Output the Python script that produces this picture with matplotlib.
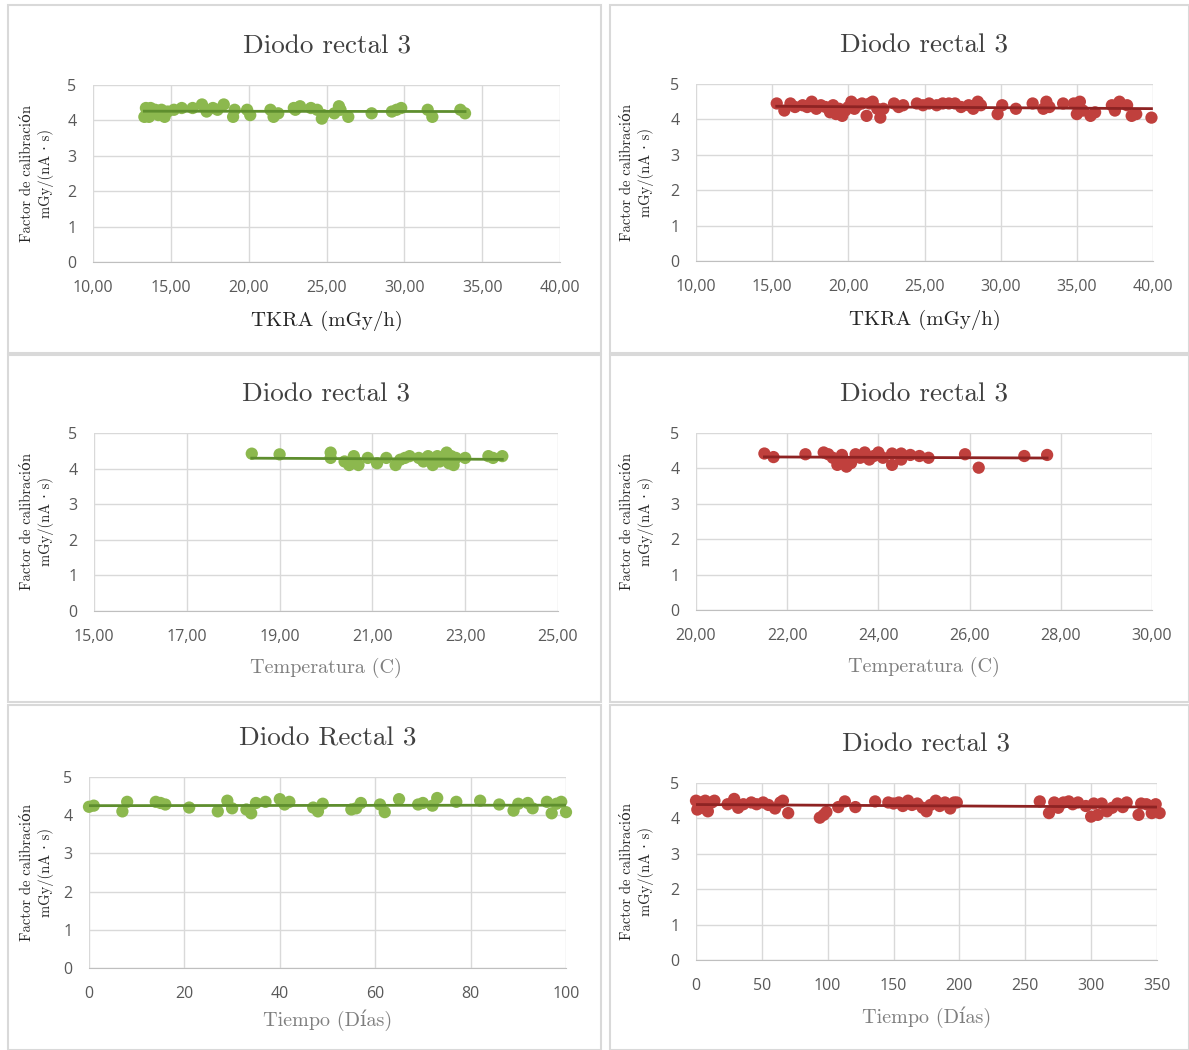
import numpy as np
import matplotlib
matplotlib.use("Agg")
import matplotlib.pyplot as plt
from matplotlib.patches import Rectangle

# TKRA, diodo 1 (verde)
tkra_v_x = [13.3, 13.4, 13.5, 13.6, 13.7, 13.8, 14.0, 14.2, 14.4, 14.6, 14.8, 15.2, 15.7, 16.4, 17.0,
            17.3, 17.7, 18.0, 18.4, 19.0, 19.1, 19.9, 20.1, 21.4, 21.6, 21.9, 22.9, 23.0, 23.3, 24.0,
            24.4, 24.7, 24.8, 25.5, 25.8, 25.9, 26.4, 27.9, 29.2, 29.5, 29.8, 31.5, 31.8, 33.6, 33.9]
tkra_v_y = [4.10, 4.35, 4.20, 4.10, 4.35, 4.20, 4.30, 4.15, 4.30, 4.10, 4.25, 4.30, 4.35, 4.35, 4.45,
            4.25, 4.35, 4.30, 4.45, 4.10, 4.30, 4.30, 4.15, 4.30, 4.10, 4.20, 4.35, 4.30, 4.40, 4.35,
            4.30, 4.05, 4.15, 4.20, 4.40, 4.30, 4.10, 4.20, 4.25, 4.30, 4.35, 4.30, 4.10, 4.30, 4.20]

# TKRA, diodo 2 (rojo)
tkra_r_x = [15.3, 15.8, 16.2, 16.5, 17.0, 17.3, 17.6, 17.9, 18.2, 18.5, 18.8, 19.0, 19.2, 19.4, 19.6,
            19.8, 20.0, 20.2, 20.4, 20.6, 20.9, 21.2, 21.4, 21.6, 21.9, 22.1, 22.3, 23.0, 23.3, 23.6,
            24.5, 24.9, 25.3, 25.8, 26.2, 26.6, 27.0, 27.4, 27.9, 28.2, 28.5, 28.7, 29.8, 30.1, 31.0,
            32.1, 32.8, 33.0, 33.2, 34.1, 34.8, 35.0, 35.2, 35.4, 35.9, 36.2, 37.3, 37.5, 37.8, 38.3,
            38.6, 38.9, 39.9]
tkra_r_y = [4.45, 4.25, 4.45, 4.35, 4.40, 4.35, 4.50, 4.30, 4.40, 4.35, 4.20, 4.40, 4.15, 4.30, 4.10,
            4.25, 4.35, 4.50, 4.30, 4.40, 4.45, 4.10, 4.45, 4.50, 4.30, 4.05, 4.30, 4.45, 4.35, 4.40,
            4.45, 4.40, 4.45, 4.40, 4.45, 4.45, 4.45, 4.35, 4.40, 4.30, 4.50, 4.40, 4.15, 4.40, 4.30,
            4.45, 4.30, 4.50, 4.35, 4.45, 4.45, 4.15, 4.50, 4.25, 4.10, 4.20, 4.40, 4.25, 4.50, 4.40,
            4.10, 4.15, 4.05]

# Temperatura, diodo 1 (verde)
temp_v_x = [18.4, 19.0, 20.1, 20.1, 20.4, 20.5, 20.6, 20.65, 20.7, 20.9, 21.1, 21.3, 21.5, 21.6, 21.7,
            21.8, 22.0, 22.1, 22.2, 22.3, 22.4, 22.45, 22.5, 22.6, 22.65, 22.7, 22.75, 22.8, 23.0, 23.5,
            23.6, 23.8]
temp_v_y = [4.42, 4.40, 4.45, 4.30, 4.20, 4.10, 4.35, 4.20, 4.10, 4.30, 4.15, 4.30, 4.10, 4.25, 4.30,
            4.35, 4.30, 4.20, 4.35, 4.10, 4.35, 4.20, 4.30, 4.45, 4.15, 4.35, 4.10, 4.30, 4.30, 4.35,
            4.30, 4.35]

# Temperatura, diodo 2 (rojo)
temp_r_x = [21.5, 21.7, 22.4, 22.8, 22.9, 23.0, 23.1, 23.2, 23.2, 23.3, 23.4, 23.5, 23.6, 23.7, 23.8,
            23.9, 24.0, 24.1, 24.3, 24.3, 24.5, 24.5, 24.7, 24.9, 25.1, 25.9, 26.2, 27.2, 27.7]
temp_r_y = [4.42, 4.32, 4.40, 4.45, 4.40, 4.30, 4.10, 4.38, 4.20, 4.05, 4.15, 4.40, 4.30, 4.45, 4.25,
            4.35, 4.45, 4.30, 4.42, 4.10, 4.25, 4.42, 4.38, 4.35, 4.30, 4.40, 4.02, 4.35, 4.38]

# Tiempo, diodo 1 (verde)
dias_v_x = [0, 1, 7, 8, 14, 15, 16, 21, 27, 29, 30, 33, 34, 35, 37, 40, 41, 42, 47, 48, 49, 55, 56, 57,
            61, 62, 65, 69, 70, 72, 73, 77, 82, 86, 89, 90, 92, 93, 96, 97, 98, 99, 100]
dias_v_y = [4.22, 4.25, 4.10, 4.35, 4.35, 4.32, 4.28, 4.20, 4.10, 4.38, 4.18, 4.15, 4.05, 4.32, 4.35,
            4.42, 4.28, 4.35, 4.20, 4.10, 4.30, 4.15, 4.18, 4.32, 4.28, 4.08, 4.42, 4.28, 4.32, 4.25,
            4.45, 4.35, 4.38, 4.28, 4.12, 4.30, 4.32, 4.18, 4.35, 4.05, 4.30, 4.35, 4.08]

# Tiempo, diodo 2 (rojo)
dias_r_x = [0, 1, 3, 5, 7, 9, 12, 14, 24, 29, 32, 36, 42, 46, 51, 55, 60, 64, 66, 70, 94, 97, 99, 108,
            113, 121, 136, 146, 150, 154, 157, 161, 164, 168, 172, 175, 178, 182, 185, 189, 193, 196,
            198, 261, 268, 272, 275, 279, 283, 286, 290, 296, 300, 302, 305, 308, 312, 316, 320, 324,
            327, 336, 338, 342, 346, 349, 352]
dias_r_y = [4.50, 4.25, 4.45, 4.30, 4.50, 4.20, 4.45, 4.50, 4.40, 4.55, 4.30, 4.40, 4.45, 4.40, 4.45,
            4.38, 4.28, 4.45, 4.50, 4.15, 4.02, 4.10, 4.18, 4.32, 4.48, 4.32, 4.48, 4.45, 4.42, 4.45,
            4.35, 4.50, 4.38, 4.42, 4.30, 4.20, 4.38, 4.50, 4.35, 4.45, 4.28, 4.45, 4.45, 4.48, 4.15,
            4.45, 4.30, 4.45, 4.48, 4.40, 4.45, 4.35, 4.05, 4.42, 4.10, 4.42, 4.20, 4.30, 4.42, 4.32,
            4.45, 4.10, 4.42, 4.40, 4.15, 4.40, 4.15]

verde, verde_linea = "#8cb84e", "#5e8e2e"
rojo, rojo_linea = "#c0403d", "#8e2323"
serif = ["cmr10", "DejaVu Serif"]
sans = ["Open Sans", "DejaVu Sans"]

ylab = "Factor de calibración\nmGy/(nA · s)"

# (x, y, color, linea, xlim, xticks, formato, titulo, xlabel, estilo, labelpad, rect axes px)
paneles = [
    (tkra_v_x, tkra_v_y, verde, verde_linea, (10, 40), np.arange(10, 41, 5), "{:.2f}",
     "Diodo rectal 3", "TKRA (mGy/h)", "negro", 11, (93, 85, 560, 262)),
    (tkra_r_x, tkra_r_y, rojo, rojo_linea, (10, 40), np.arange(10, 41, 5), "{:.2f}",
     "Diodo rectal 3", "TKRA (mGy/h)", "negro", 11, (696, 84, 1153, 261)),
    (temp_v_x, temp_v_y, verde, verde_linea, (15, 25), np.arange(15, 26, 2), "{:.2f}",
     "Diodo rectal 3", "Temperatura (C)", "gris", 9, (94, 433, 558, 611)),
    (temp_r_x, temp_r_y, rojo, rojo_linea, (20, 30), np.arange(20, 31, 2), "{:.2f}",
     "Diodo rectal 3", "Temperatura (C)", "gris", 9, (696, 433, 1152, 610)),
    (dias_v_x, dias_v_y, verde, verde_linea, (0, 100), np.arange(0, 101, 20), "{:.0f}",
     "Diodo Rectal 3", "Tiempo (Días)", "gris", 5, (89, 777, 566, 968)),
    (dias_r_x, dias_r_y, rojo, rojo_linea, (0, 350), np.arange(0, 351, 50), "{:.0f}",
     "Diodo rectal 3", "Tiempo (Días)", "gris", 9, (696, 783, 1157, 960)),
]

W, H = 1189, 1050
fig = plt.figure(figsize=(W / 100, H / 100), dpi=100)
fig.patch.set_facecolor("white")

# marcos de cada grafico
for (x0, y0, x1, y1) in [(8, 5, 601, 353), (610, 5, 1189, 353), (8, 355, 601, 702),
                         (610, 355, 1189, 702), (8, 705, 601, 1050), (610, 705, 1189, 1050)]:
    fig.patches.append(Rectangle((x0 / W, 1 - y1 / H), (x1 - x0) / W, (y1 - y0) / H,
                                 transform=fig.transFigure, fill=False,
                                 edgecolor="#d9d9d9", linewidth=1.5))

for x, y, col, lcol, xlim, xt, fmt, titulo, xlab, estilo, lpad, px in paneles:
    l, t, r, b = px
    ax = fig.add_axes([l / W, 1 - b / H, (r - l) / W, (b - t) / H])
    ax.scatter(x, y, s=78, color=col, edgecolors="none", zorder=3, clip_on=False)
    m, c = np.polyfit(x, y, 1)
    xs = np.array([min(x), max(x)])
    ax.plot(xs, m * xs + c, color=lcol, lw=2.0, zorder=4)

    ax.set_xlim(*xlim)
    ax.set_ylim(0, 5)
    ax.set_xticks(xt)
    ax.set_xticklabels([fmt.format(v).replace(".", ",") for v in xt])
    ax.set_yticks(range(6))
    ax.grid(True, color="#d9d9d9", lw=1.0)
    ax.set_axisbelow(True)
    for s in ["top", "right", "left"]:
        ax.spines[s].set_visible(False)
    ax.spines["bottom"].set_color("#bfbfbf")
    ax.tick_params(length=0, labelsize=11.5, labelcolor="#595959")
    ax.tick_params(axis="x", pad=13)
    ax.tick_params(axis="y", pad=12)
    for lab in ax.get_xticklabels() + ax.get_yticklabels():
        lab.set_family(sans)

    ax.set_title(titulo, family=serif, fontsize=19.5, color="#404040", pad=23)
    if estilo == "negro":
        ax.set_xlabel(xlab, family=serif, fontsize=15, color="#262626", labelpad=lpad)
    else:
        ax.set_xlabel(xlab, family=serif, fontsize=14.5, color="#7f7f7f", labelpad=lpad)
    ax.set_ylabel(ylab, family=serif, fontsize=10.5, color="#262626", linespacing=1.3,
                  va="center")
    cx_px = 37 if l < 300 else 637
    ax.yaxis.set_label_coords((cx_px - l) / (r - l), 0.5)

fig.savefig("out.png", dpi=100, facecolor="white")
